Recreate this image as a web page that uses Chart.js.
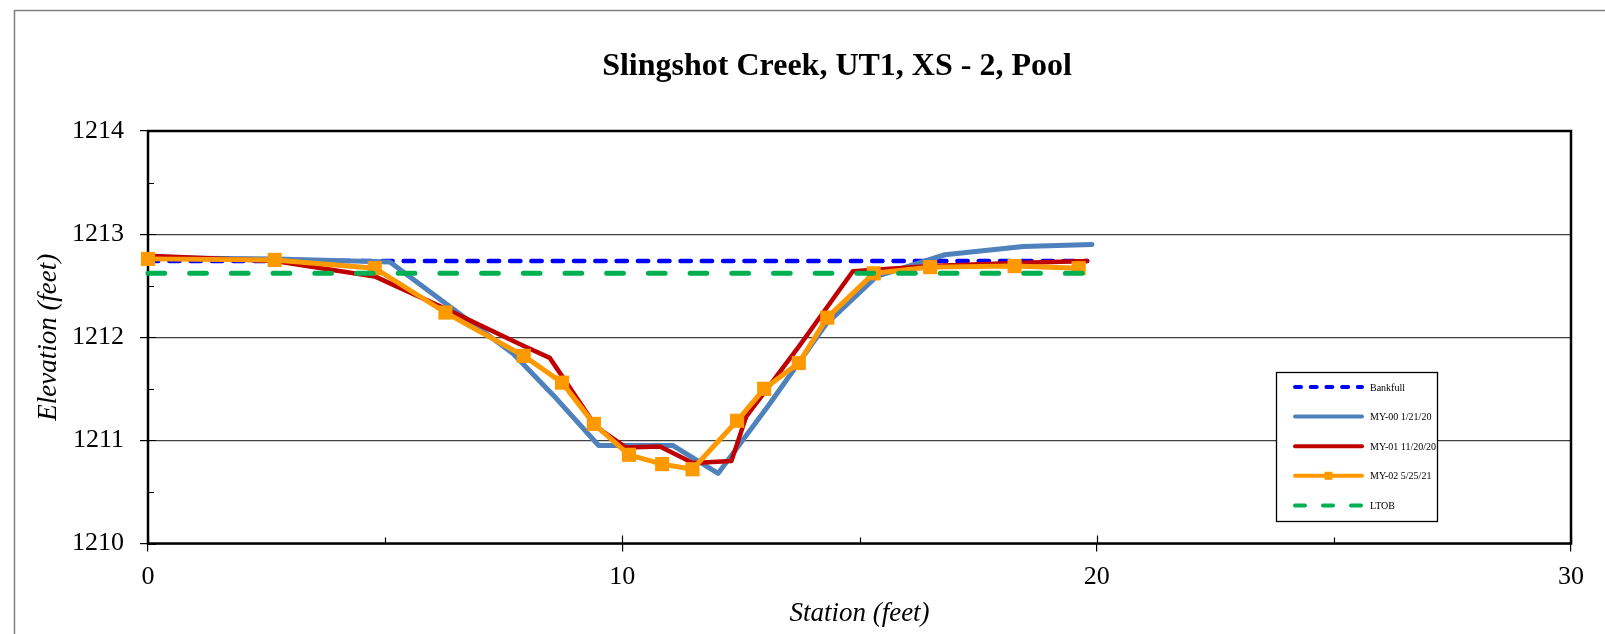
<!DOCTYPE html>
<html>
<head>
<meta charset="utf-8">
<script src="https://cdn.jsdelivr.net/npm/chart.js@4.4.1/dist/chart.umd.min.js"></script>
<style>
  html, body { margin: 0; padding: 0; background: #fff; }
  #wrap { position: relative; width: 1605px; height: 634px; }
</style>
</head>
<body>
<div id="wrap"><canvas id="xs" width="1605" height="634"></canvas></div>
<script>
// values
var chartTitle = 'Slingshot Creek, UT1, XS - 2, Pool';
var xTitle = 'Station (feet)';
var yTitle = 'Elevation (feet)';
var X_MIN = 0, X_MAX = 30, X_STEP = 5, X_LABEL_EVERY = 10;
var Y_MIN = 1210, Y_MAX = 1214, Y_STEP = 0.5;

var stationBankfull = [0, 19.8];
var elevBankfull = [1212.74, 1212.74];

var stationMY00 = [0, 2.7, 5.1, 7.7, 8.6, 9.5, 11.07, 12.02, 13.1, 14.3, 15.36, 16.8, 18.45, 19.9];
var elevMY00 = [1212.77, 1212.76, 1212.73, 1211.84, 1211.41, 1210.95, 1210.95, 1210.68, 1211.35, 1212.13, 1212.59, 1212.8, 1212.88, 1212.9];

var stationMY01 = [0, 2.67, 4.78, 6.3, 7.9, 8.47, 9.45, 10.08, 10.79, 11.49, 12.3, 12.61, 13.72, 14.86, 16.5, 18.3, 19.8];
var elevMY01 = [1212.79, 1212.74, 1212.59, 1212.27, 1211.92, 1211.8, 1211.13, 1210.93, 1210.94, 1210.78, 1210.8, 1211.23, 1211.91, 1212.64, 1212.69, 1212.72, 1212.74];

var stationMY02 = [0, 2.67, 4.78, 6.27, 7.92, 8.73, 9.4, 10.14, 10.84, 11.48, 12.42, 12.99, 13.72, 14.32, 15.3, 16.49, 18.27, 19.62];
var elevMY02 = [1212.76, 1212.75, 1212.67, 1212.24, 1211.82, 1211.56, 1211.16, 1210.86, 1210.77, 1210.72, 1211.19, 1211.5, 1211.75, 1212.19, 1212.62, 1212.68, 1212.69, 1212.67];

var stationLTOB = [0, 19.7];
var elevLTOB = [1212.62, 1212.62];

var SERIF = "'Times New Roman', 'Liberation Serif', serif";

function toPoints(xs, ys) {
  return xs.map(function (x, i) { return { x: x, y: ys[i] }; });
}

var legendItems = [
  { label: 'Bankfull', color: '#0000FF', width: 4, dash: [6, 9.7] },
  { label: 'MY-00 1/21/20', color: '#4F81BD', width: 4, dash: [] },
  { label: 'MY-01 11/20/20', color: '#C00000', width: 4, dash: [] },
  { label: 'MY-02 5/25/21', color: '#FF9900', width: 4, dash: [], marker: 8 },
  { label: 'LTOB', color: '#00B050', width: 4, dash: [10, 18] },
];

var plotDecor = {
  id: 'plotDecor',
  beforeDraw: function (chart) {
    var ctx = chart.ctx;
    ctx.save();
    ctx.fillStyle = '#fff';
    ctx.fillRect(0, 0, chart.width, chart.height);
    // outer chart border, runs off the right and bottom edges
    ctx.strokeStyle = '#7f7f7f';
    ctx.lineWidth = 1.5;
    ctx.beginPath();
    ctx.moveTo(14.5, chart.height + 2);
    ctx.lineTo(14.5, 10.5);
    ctx.lineTo(chart.width + 2, 10.5);
    ctx.stroke();
    ctx.restore();
  },
  beforeDatasetsDraw: function (chart) {
    var ctx = chart.ctx;
    var a = chart.chartArea;
    var xs = chart.scales.x, ys = chart.scales.y;
    ctx.save();
    ctx.strokeStyle = '#000';
    ctx.lineWidth = 1.2;
    ctx.beginPath();
    for (var v = Y_MIN; v <= Y_MAX + 1e-9; v += Y_STEP) {
      var py = Math.round(ys.getPixelForValue(v)) + 0.5;
      var len = Number.isInteger(v) ? 8 : 6;
      ctx.moveTo(a.left, py);
      ctx.lineTo(a.left + len, py);
    }
    for (var u = X_MIN; u <= X_MAX + 1e-9; u += X_STEP) {
      var px = Math.round(xs.getPixelForValue(u)) + 0.5;
      var len2 = (u % X_LABEL_EVERY === 0) ? 8 : 6;
      ctx.moveTo(px, a.bottom);
      ctx.lineTo(px, a.bottom - len2);
    }
    ctx.stroke();
    ctx.lineWidth = 2.5;
    ctx.strokeRect(a.left, a.top, a.right - a.left, a.bottom - a.top);
    ctx.restore();
  },
  afterDraw: function (chart) {
    var ctx = chart.ctx;
    ctx.save();
    // title
    ctx.fillStyle = '#000';
    ctx.font = 'bold 32px ' + SERIF;
    ctx.textAlign = 'center';
    ctx.textBaseline = 'middle';
    ctx.fillText(chartTitle, 837, 67);

    // legend box
    var bx = 1276, by = 372, bw = 161, bh = 149, rowH = 29.6;
    var lineX0 = 1295, lineX1 = 1362, textX = 1370;
    ctx.fillStyle = '#fff';
    ctx.fillRect(bx, by, bw, bh);
    ctx.strokeStyle = '#000';
    ctx.lineWidth = 1.3;
    ctx.strokeRect(bx + 0.5, by + 0.5, bw, bh);
    ctx.font = '10px ' + SERIF;
    legendItems.forEach(function (it, i) {
      var ry = by + 15 + i * rowH;
      ctx.strokeStyle = it.color;
      ctx.lineWidth = it.width;
      ctx.lineCap = 'round';
      ctx.setLineDash(it.dash);
      ctx.beginPath();
      ctx.moveTo(lineX0, ry);
      ctx.lineTo(lineX1, ry);
      ctx.stroke();
      ctx.setLineDash([]);
      if (it.marker) {
        ctx.fillStyle = it.color;
        ctx.fillRect((lineX0 + lineX1) / 2 - it.marker / 2, ry - it.marker / 2, it.marker, it.marker);
      }
      ctx.fillStyle = '#000';
      ctx.textAlign = 'left';
      ctx.textBaseline = 'middle';
      ctx.fillText(it.label, textX, ry + 1);
    });
    ctx.restore();
  }
};

var commonLine = { fill: false, tension: 0, clip: false, borderJoinStyle: 'round', borderCapStyle: 'round' };

new Chart(document.getElementById('xs'), {
  type: 'line',
  data: {
    datasets: [
      Object.assign({}, commonLine, {
        label: 'LTOB', data: toPoints(stationLTOB, elevLTOB), order: 0,
        borderColor: '#00B050', borderWidth: 5, borderDash: [16.7, 25], pointRadius: 0
      }),
      Object.assign({}, commonLine, {
        label: 'MY-02 5/25/21', data: toPoints(stationMY02, elevMY02), order: 1,
        borderColor: '#FF9900', borderWidth: 5, pointStyle: 'rect', pointRadius: 10,
        pointBackgroundColor: '#FF9900', pointBorderWidth: 0
      }),
      Object.assign({}, commonLine, {
        label: 'MY-01 11/20/20', data: toPoints(stationMY01, elevMY01), order: 2,
        borderColor: '#C00000', borderWidth: 4.5, pointRadius: 0
      }),
      Object.assign({}, commonLine, {
        label: 'MY-00 1/21/20', data: toPoints(stationMY00, elevMY00), order: 3,
        borderColor: '#4F81BD', borderWidth: 5, pointRadius: 0
      }),
      Object.assign({}, commonLine, {
        label: 'Bankfull', data: toPoints(stationBankfull, elevBankfull), order: 4,
        borderColor: '#0000FF', borderWidth: 4.5, borderDash: [10.3, 11], pointRadius: 0
      })
    ]
  },
  options: {
    responsive: false,
    animation: false,
    events: [],
    layout: { padding: { left: 0, right: 34, top: 131, bottom: 0 } },
    plugins: { legend: { display: false }, tooltip: { enabled: false }, title: { display: false } },
    scales: {
      x: {
        type: 'linear', min: X_MIN, max: X_MAX,
        afterFit: function (s) { s.height = 90.5; },
        border: { display: false },
        grid: {
          drawOnChartArea: false, tickLength: 8, lineWidth: 1.2,
          tickColor: function (c) { return c.tick.value % X_LABEL_EVERY === 0 ? '#000' : 'rgba(0,0,0,0)'; }
        },
        ticks: {
          stepSize: X_STEP, autoSkip: false, maxRotation: 0, padding: 10, color: '#000',
          font: { family: SERIF, size: 26 },
          callback: function (v) { return v % X_LABEL_EVERY === 0 ? String(v) : ''; }
        },
        title: {
          display: true, text: xTitle, color: '#000',
          font: { family: SERIF, size: 27, style: 'italic' },
          padding: { top: 0, bottom: 4 }
        }
      },
      y: {
        min: Y_MIN, max: Y_MAX,
        afterFit: function (s) { s.width = 148; },
        border: { display: false },
        grid: {
          tickLength: 8, lineWidth: 1.2,
          color: function (c) { return Number.isInteger(c.tick.value) ? '#404040' : 'rgba(0,0,0,0)'; },
          tickColor: function (c) { return Number.isInteger(c.tick.value) ? '#000' : 'rgba(0,0,0,0)'; }
        },
        ticks: {
          stepSize: Y_STEP, autoSkip: false, padding: 16, color: '#000',
          font: { family: SERIF, size: 26 },
          callback: function (v) { return Number.isInteger(v) ? String(v) : ''; }
        },
        title: {
          display: true, text: yTitle, color: '#000',
          font: { family: SERIF, size: 27, style: 'italic' },
          padding: { top: 33, bottom: 0 }
        }
      }
    }
  },
  plugins: [plotDecor]
});
</script>
</body>
</html>
